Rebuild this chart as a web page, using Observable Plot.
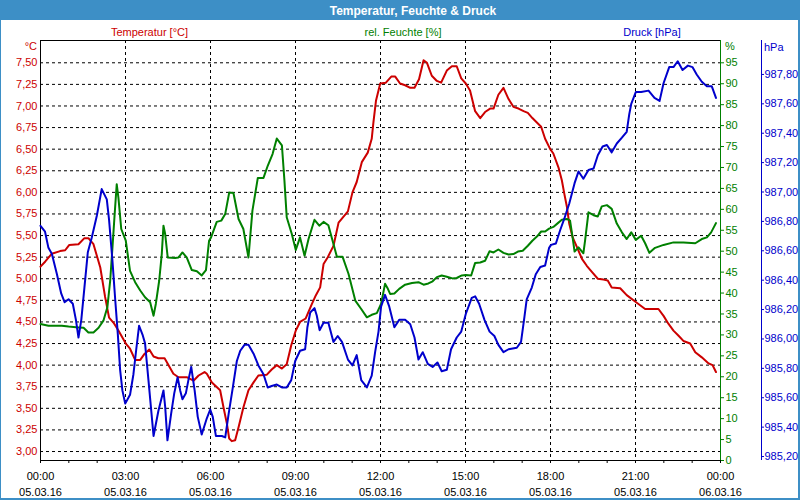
<!DOCTYPE html>
<html>
<head>
<meta charset="utf-8">
<script src="https://cdn.jsdelivr.net/npm/d3@7"></script>
<script src="https://cdn.jsdelivr.net/npm/@observablehq/plot@0.6"></script>
<style>
  body { margin: 0; background: #fff; }
  #wrap { position: relative; width: 800px; height: 500px; overflow: hidden; background: #fff;
          font-family: "Liberation Sans", Arial, sans-serif; font-size: 11px; }
  #wrap svg { position: absolute; left: 0; top: 0; }
  #title { position: absolute; left: 0; top: 0; width: 800px; height: 20px; background: #3d8fc6; }
  #border { position: absolute; left: 0; top: 0; width: 800px; height: 500px; box-sizing: border-box;
            border: 1px solid #3d8fc6; border-right-width: 2px; border-bottom-width: 2px; }
  .lbl { position: absolute; white-space: nowrap; transform: translate(-50%, -50%); line-height: 1; }
  .lft { position: absolute; white-space: nowrap; transform: translate(0, -50%); line-height: 1; }
  .rgt { position: absolute; white-space: nowrap; transform: translate(-100%, -50%); line-height: 1; }
</style>
</head>
<body>
<div id="wrap"></div>
<script>
// ---------- data (hours since 05.03.16 00:00) ----------
const tempHours = [0.00,0.17,0.40,0.69,0.87,1.01,1.34,1.55,1.69,1.87,2.11,2.28,2.42,2.58,2.75,3.01,3.16,3.34,3.52,3.67,3.84,3.99,4.16,4.38,4.52,4.69,4.87,5.16,5.40,5.58,5.79,5.87,6.05,6.34,6.46,6.58,6.66,6.75,6.87,6.99,7.16,7.34,7.52,7.69,7.99,8.16,8.34,8.52,8.69,8.85,9.01,9.16,9.36,9.58,9.72,9.87,9.99,10.14,10.34,10.52,10.85,11.01,11.16,11.34,11.55,11.69,11.75,11.84,11.99,12.19,12.38,12.52,12.69,12.87,13.05,13.20,13.36,13.52,13.64,13.81,13.99,14.14,14.34,14.52,14.69,14.85,15.01,15.16,15.34,15.52,15.69,15.87,15.99,16.16,16.34,16.52,16.69,16.87,17.05,17.20,17.36,17.67,17.81,17.99,18.10,18.28,18.40,18.49,18.58,18.66,18.78,18.93,19.11,19.28,19.46,19.67,19.87,20.02,20.16,20.46,20.69,21.01,21.34,21.81,21.99,22.16,22.34,22.52,22.69,22.93,23.11,23.34,23.58,23.72,23.84];
const tempValues = [5.14,5.20,5.29,5.32,5.33,5.39,5.40,5.47,5.47,5.40,5.13,4.79,4.55,4.49,4.40,4.25,4.19,4.06,4.06,4.13,4.18,4.10,4.08,4.08,4.00,3.90,3.86,3.86,3.82,3.88,3.92,3.90,3.80,3.71,3.51,3.32,3.15,3.12,3.13,3.28,3.51,3.71,3.80,3.88,3.89,3.95,4.00,3.96,4.01,4.23,4.40,4.50,4.54,4.71,4.81,4.90,5.17,5.25,5.38,5.65,5.78,6.00,6.12,6.35,6.46,6.62,6.81,7.06,7.26,7.27,7.34,7.34,7.26,7.24,7.21,7.21,7.31,7.53,7.50,7.35,7.29,7.27,7.41,7.46,7.46,7.32,7.26,7.18,6.94,6.86,6.93,6.97,6.97,7.13,7.21,7.08,6.99,6.97,6.94,6.92,6.86,6.76,6.62,6.50,6.45,6.29,6.14,5.98,5.83,5.64,5.48,5.37,5.23,5.15,5.08,5.00,4.99,4.98,4.90,4.89,4.81,4.73,4.65,4.65,4.57,4.48,4.40,4.34,4.28,4.25,4.15,4.09,4.02,4.00,3.92];

const humHours = [0.00,0.28,0.75,0.99,1.34,1.52,1.69,1.87,2.05,2.22,2.36,2.46,2.54,2.61,2.69,2.75,2.85,3.01,3.16,3.34,3.52,3.69,3.87,3.99,4.07,4.19,4.28,4.34,4.40,4.49,4.75,4.87,5.01,5.16,5.34,5.52,5.69,5.84,5.95,6.02,6.22,6.38,6.52,6.66,6.81,6.99,7.16,7.34,7.48,7.67,7.87,8.02,8.19,8.34,8.52,8.61,8.69,8.87,9.01,9.16,9.32,9.46,9.67,9.84,9.99,10.16,10.34,10.46,10.66,10.87,11.11,11.32,11.52,11.69,11.87,12.02,12.16,12.26,12.34,12.49,12.66,12.87,13.11,13.34,13.52,13.69,13.84,13.99,14.16,14.34,14.54,14.69,14.87,15.01,15.20,15.34,15.52,15.69,15.85,15.99,16.16,16.34,16.52,16.69,16.85,17.02,17.20,17.36,17.52,17.67,17.81,17.95,18.10,18.26,18.40,18.58,18.69,18.78,18.85,18.99,19.16,19.22,19.34,19.52,19.67,19.81,19.99,20.16,20.34,20.52,20.69,20.85,21.01,21.20,21.34,21.49,21.69,21.99,22.34,22.69,23.11,23.34,23.52,23.67,23.84];
const humValues = [32.6,32.2,32.2,32.0,31.8,31.7,30.6,30.6,31.7,33.4,36.6,43.0,50.9,58.1,66.0,62.8,55.3,52.5,45.3,42.6,40.6,39.0,37.8,34.6,37.4,43.0,49.3,56.1,54.1,48.5,48.4,48.5,49.7,48.5,45.5,45.2,44.2,45.5,52.5,53.3,57.0,57.3,58.9,64.0,63.9,57.7,55.3,48.5,59.7,67.5,67.5,70.4,73.2,76.9,75.3,66.8,58.1,54.1,50.3,53.3,48.9,52.9,57.5,56.1,57.0,56.2,51.7,48.7,48.7,44.6,38.2,36.2,34.2,34.8,35.2,37.4,42.2,41.0,39.8,39.9,41.0,42.0,42.4,42.6,42.0,42.3,42.8,43.8,44.2,43.9,43.5,43.6,44.2,44.3,44.2,47.2,47.3,47.7,50.0,49.7,50.4,49.6,49.2,49.3,49.9,50.1,51.3,52.5,53.5,54.7,54.7,55.4,55.8,56.7,57.5,57.7,57.3,53.3,49.9,50.9,49.5,52.5,59.3,58.6,58.3,60.7,61.0,60.1,56.6,54.5,52.9,54.5,52.7,53.7,51.9,49.6,50.8,51.5,52.1,52.1,51.9,52.9,53.3,54.5,56.7];

const presHours = [0.00,0.16,0.28,0.40,0.58,0.73,0.85,0.99,1.14,1.25,1.34,1.44,1.55,1.67,1.81,1.99,2.16,2.34,2.42,2.54,2.64,2.73,2.81,2.89,2.99,3.16,3.28,3.38,3.48,3.60,3.69,3.81,3.99,4.16,4.34,4.40,4.48,4.61,4.72,4.84,4.93,5.01,5.13,5.22,5.32,5.44,5.55,5.69,5.87,5.99,6.08,6.19,6.40,6.52,6.64,6.78,6.93,7.05,7.20,7.34,7.52,7.69,7.87,8.02,8.16,8.34,8.52,8.69,8.85,8.99,9.16,9.34,9.42,9.52,9.67,9.75,9.85,9.99,10.16,10.34,10.49,10.64,10.85,11.01,11.16,11.32,11.52,11.69,11.81,11.93,12.02,12.16,12.31,12.49,12.66,12.87,13.05,13.20,13.34,13.49,13.67,13.84,14.01,14.16,14.34,14.49,14.69,14.85,15.01,15.22,15.34,15.48,15.67,15.85,16.02,16.16,16.34,16.52,16.81,16.96,17.08,17.16,17.34,17.48,17.64,17.81,17.95,18.02,18.19,18.34,18.49,18.66,18.85,18.99,19.16,19.34,19.52,19.67,19.84,19.99,20.16,20.34,20.52,20.69,20.78,20.85,21.01,21.20,21.46,21.67,21.85,21.99,22.19,22.34,22.49,22.66,22.85,23.01,23.16,23.34,23.52,23.69,23.84];
const presValues = [986.77,986.73,986.62,986.58,986.44,986.31,986.25,986.27,986.24,986.13,986.01,986.13,986.35,986.59,986.69,986.84,987.02,986.95,986.81,986.53,986.26,986.03,985.79,985.65,985.56,985.62,985.76,985.93,986.09,986.03,985.97,985.72,985.34,985.51,985.65,985.54,985.31,985.49,985.63,985.74,985.65,985.59,985.63,985.72,985.81,985.65,985.47,985.35,985.46,985.52,985.47,985.34,985.34,985.33,985.49,985.66,985.85,985.92,985.96,985.96,985.90,985.82,985.76,985.67,985.68,985.69,985.67,985.67,985.72,985.85,985.92,985.93,986.08,986.18,986.21,986.16,986.06,986.11,986.11,985.98,986.02,985.98,985.86,985.82,985.89,985.72,985.67,985.75,985.91,986.05,986.22,986.30,986.22,986.08,986.13,986.13,986.10,986.01,985.86,985.91,985.83,985.81,985.84,985.78,985.79,985.93,986.01,986.05,986.17,986.28,986.29,986.24,986.13,986.05,986.02,985.96,985.91,985.93,985.94,985.98,986.15,986.27,986.35,986.44,986.49,986.50,986.62,986.64,986.65,986.74,986.82,986.92,987.06,987.14,987.09,987.15,987.16,987.25,987.31,987.32,987.27,987.33,987.37,987.41,987.53,987.60,987.68,987.68,987.69,987.64,987.62,987.74,987.85,987.85,987.89,987.83,987.86,987.85,987.80,987.75,987.72,987.72,987.64];

// ---------- ticks / labels ----------
const tempTicks = [3.00,3.25,3.50,3.75,4.00,4.25,4.50,4.75,5.00,5.25,5.50,5.75,6.00,6.25,6.50,6.75,7.00,7.25,7.50];
const humTicks = [0,5,10,15,20,25,30,35,40,45,50,55,60,65,70,75,80,85,90,95];
const presTicks = [985.2,985.4,985.6,985.8,986.0,986.2,986.4,986.6,986.8,987.0,987.2,987.4,987.6,987.8];
const hourTicks = [0,3,6,9,12,15,18,21,24];
const hourMinorTicks = [0,1,2,3,4,5,6,7,8,9,10,11,12,13,14,15,16,17,18,19,20,21,22,23,24];
const gridHours = [3,6,9,12,15,18,21];
const dateLabels = ["05.03.16", "06.03.16"];
const titleText = "Temperatur, Feuchte & Druck";
const seriesLabels = ["Temperatur [°C]", "rel. Feuchte [%]", "Druck [hPa]"];
const unitLabels = ["°C", "%", "hPa"];

// ---------- styling ----------
const RED = "#cc0000", GREEN = "#008000", BLUE = "#0000cc";
const W = 800, H = 500;
const M = {top: 40, bottom: 40, left: 40, right: 80};
const tempDomain = [2.896, 7.758];
const humDomain = [0, 100.33];
const presDomain = [985.173, 988.031];
const xDomain = [0, 24];
const presRightMargin = 39;
const presXMax = 24 * (W - presRightMargin - M.left) / (W - M.right - M.left);

const toRows = (hs, vs) => hs.map((h, i) => ({h, v: vs[i]}));
const tempData = toRows(tempHours, tempValues);
const humData = toRows(humHours, humValues);
const presData = toRows(presHours, presValues);

const baseStyle = {fontFamily: "'Liberation Sans', Arial, sans-serif", fontSize: "11px", background: "transparent", overflow: "visible"};
const comma2 = d => d.toFixed(2).replace(".", ",");
const hourFmt = h => String(h % 24).padStart(2, "0") + ":00\n" + (h < 24 ? dateLabels[0] : dateLabels[1]);

const wrap = document.getElementById("wrap");

// Temperature plot (base, with grid and frame)
const pTemp = Plot.plot({
  width: W, height: H,
  marginTop: M.top, marginBottom: M.bottom, marginLeft: M.left, marginRight: M.right,
  style: {...baseStyle, background: "#fff"},
  x: {domain: xDomain},
  y: {domain: tempDomain},
  marks: [
    Plot.gridY(tempTicks, {stroke: "#000", strokeOpacity: 1, strokeDasharray: "3,3"}),
    Plot.gridX(gridHours, {stroke: "#000", strokeOpacity: 1, strokeDasharray: "3,3"}),
    Plot.axisY(tempTicks, {anchor: "left", tickSize: 0, tickPadding: 3, color: RED, tickFormat: comma2, label: null}),
    Plot.axisX(hourMinorTicks, {anchor: "bottom", tickSize: 3, color: "#000", tickFormat: () => "", label: null}),
    Plot.axisX(hourTicks, {anchor: "bottom", tickSize: 0, tickPadding: 9, color: "#000", tickFormat: hourFmt, lineHeight: 1.4, label: null}),
    Plot.ruleX([xDomain[0]], {stroke: "#000"}),
    Plot.ruleY([tempDomain[0], tempDomain[1]], {stroke: "#000"}),
    Plot.line(tempData, {x: "h", y: "v", stroke: RED, strokeWidth: 2})
  ]
});
wrap.appendChild(pTemp);

// Humidity plot
const pHum = Plot.plot({
  width: W, height: H,
  marginTop: M.top, marginBottom: M.bottom, marginLeft: M.left, marginRight: M.right,
  style: baseStyle,
  x: {domain: xDomain, axis: null},
  y: {domain: humDomain, axis: null},
  marks: [
    Plot.axisY(humTicks, {anchor: "right", tickSize: 3, tickPadding: 2, color: GREEN, label: null}),
    Plot.ruleX([xDomain[1]], {stroke: GREEN}),
    Plot.line(humData, {x: "h", y: "v", stroke: GREEN, strokeWidth: 2})
  ]
});
wrap.appendChild(pHum);

// Pressure plot
const pPres = Plot.plot({
  width: W, height: H,
  marginTop: M.top, marginBottom: M.bottom, marginLeft: M.left, marginRight: presRightMargin,
  style: baseStyle,
  x: {domain: [0, presXMax], axis: null},
  y: {domain: presDomain, axis: null},
  marks: [
    Plot.axisY(presTicks, {anchor: "right", tickSize: 2, tickPadding: 1, color: BLUE, tickFormat: comma2, label: null}),
    Plot.ruleX([presXMax], {stroke: BLUE}),
    Plot.line(presData, {x: "h", y: "v", stroke: BLUE, strokeWidth: 2})
  ]
});
wrap.appendChild(pPres);

// Title bar, labels, border
function addDiv(cls, text, x, y, style) {
  const d = document.createElement("div");
  d.className = cls; d.textContent = text;
  d.style.left = x + "px"; d.style.top = y + "px";
  Object.assign(d.style, style || {});
  wrap.appendChild(d);
  return d;
}
const tb = document.createElement("div"); tb.id = "title"; wrap.appendChild(tb);
addDiv("lbl", titleText, 413, 10.5, {color: "#fff", fontWeight: "bold", fontSize: "12px"});
addDiv("lbl", seriesLabels[0], 149.5, 31.5, {color: RED});
addDiv("lbl", seriesLabels[1], 403, 31.5, {color: GREEN});
addDiv("lbl", seriesLabels[2], 652, 31.5, {color: BLUE});
addDiv("rgt", unitLabels[0], 37, 46, {color: RED});
addDiv("lft", unitLabels[1], 725, 46, {color: GREEN});
addDiv("lft", unitLabels[2], 764, 46.5, {color: BLUE});
const b = document.createElement("div"); b.id = "border"; wrap.appendChild(b);
</script>
</body>
</html>
